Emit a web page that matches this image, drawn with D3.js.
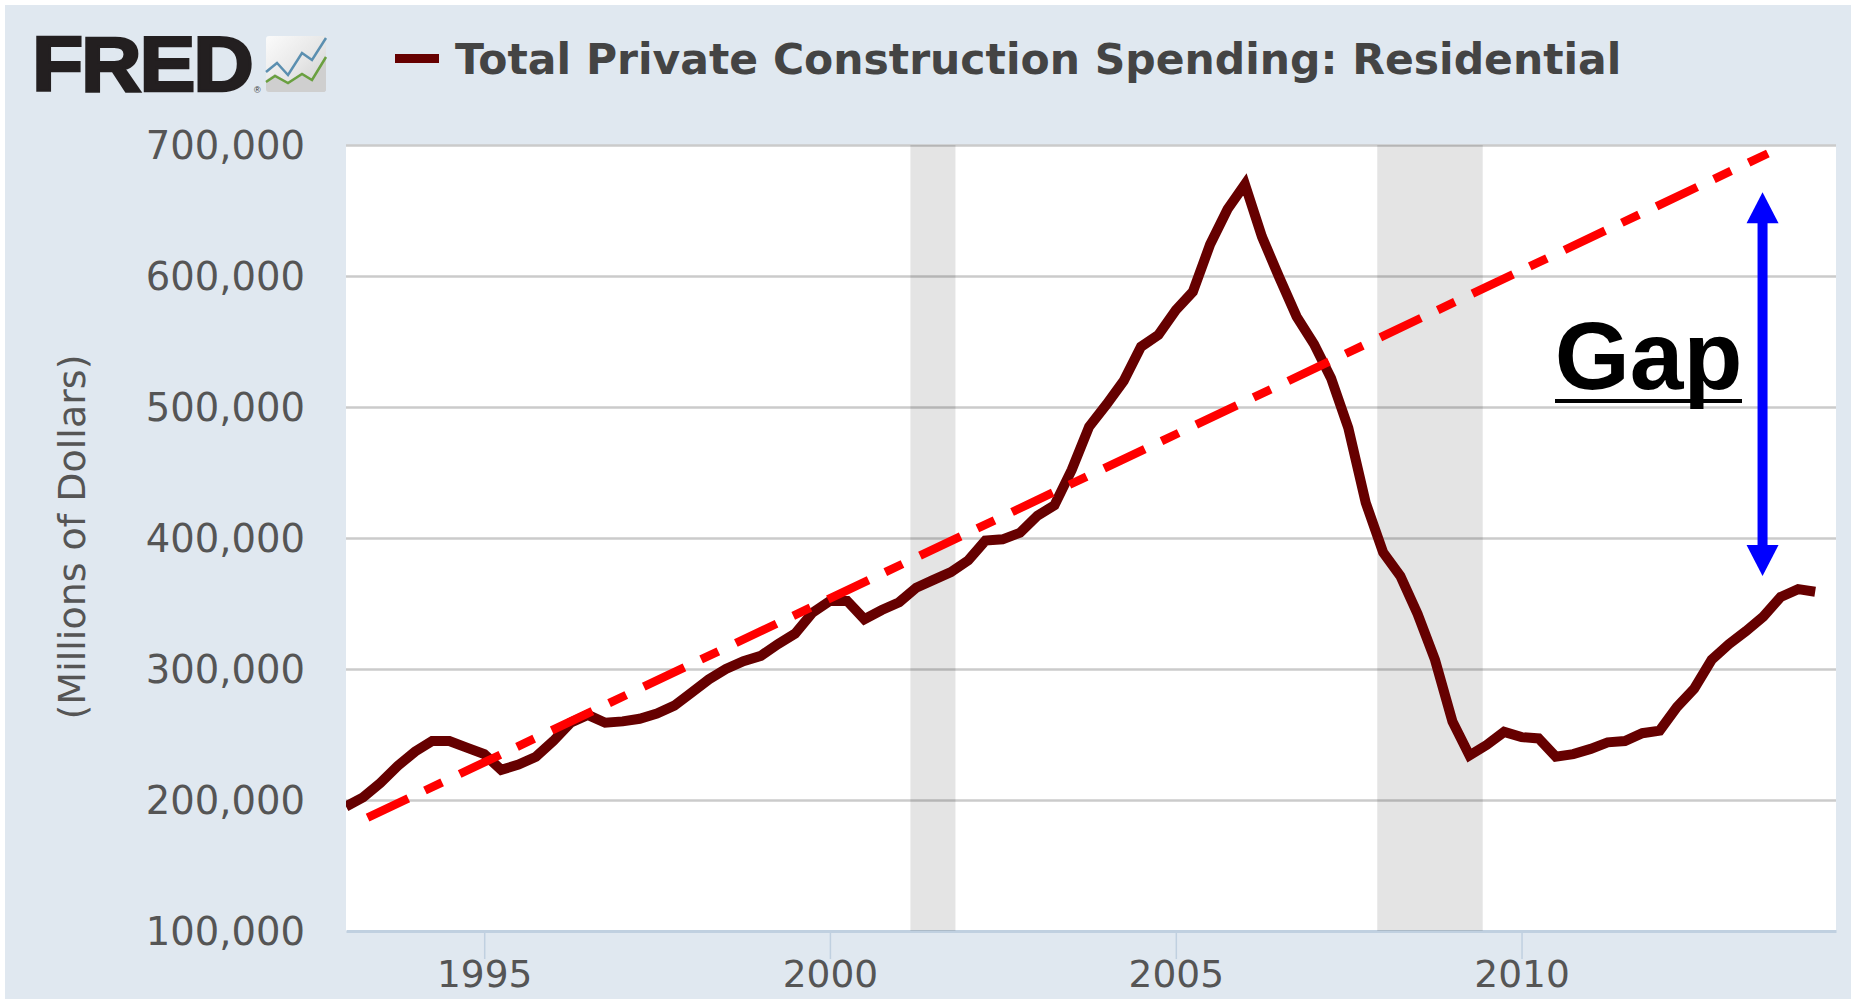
<!DOCTYPE html>
<html><head><meta charset="utf-8">
<script src="https://cdnjs.cloudflare.com/ajax/libs/d3/7.8.5/d3.min.js"></script>
<style>html,body{margin:0;padding:0;background:#fff;overflow:hidden}svg{display:block}</style>
</head><body><svg id="c" width="1851" height="999"></svg>
<script>
const seriesName = "Total Private Construction Spending: Residential";
const yAxisTitle = "(Millions of Dollars)";
const annotationLabel = "Gap";
const startYear = 1993;
// Quarterly values, millions of dollars, 1993Q1 onward
const spending = [195,202,213,226, 237,245,245,240, 235,223,227,233, 245,259,265,259,
  260,262,266,272, 282,292,300,306, 310,319,327,343, 352,352,338,345,
  351,362,368,374, 383,398,399,404, 417,425,452,485, 502,520,546,555,
  574,588,624,651, 670,630,599,569, 548,522,484,427, 389,371,342,307,
  260,234,242,252, 248,247,233,235, 239,244,245,251, 253,271,285,307,
  319,329,340,355, 361,359].map(v => v * 1000);
const yTicks = [100000,200000,300000,400000,500000,600000,700000];
const xTickYears = [1995,2000,2005,2010];
const recessions = [["2001-03-01","2001-10-25"],["2007-12-01","2009-06-10"]];
const trendDates = ["1993-04-25","2013-07-25"];
const trendValues = [186500,693500];
const gapDate = "2013-06-27";
const gapValues = [664000,371000];

const W=1851,H=999,L=346,R=1836,T=145,B=931;
const pd=d3.timeParse("%Y-%m-%d");
const x=d3.scaleTime().domain([new Date(1993,0,1),new Date(2014,6,20)]).range([L,R]);
const y=d3.scaleLinear().domain([100000,700000]).range([B,T]);
const svg=d3.select("#c");
const fontFam="'DejaVu Sans',sans-serif";

svg.append("rect").attr("x",5).attr("y",5).attr("width",W-5).attr("height",H-5).attr("fill","#e0e8f0");
svg.append("rect").attr("x",L).attr("y",T).attr("width",R-L).attr("height",B-T).attr("fill","#fff");

// Y axis + grid
const ya=svg.append("g").attr("transform",`translate(${L},0)`)
  .call(d3.axisLeft(y).tickValues(yTicks).tickFormat(d3.format(",")).tickSize(-(R-L)).tickPadding(41));
ya.select(".domain").remove();
ya.selectAll(".tick line").attr("stroke",d=>d===100000?"none":"#cbcbcb").attr("stroke-width",2.5);
ya.selectAll(".tick text").attr("fill","#555").attr("font-family",fontFam).attr("font-size",38.5).attr("y",1.5);

// X axis
const xa=svg.append("g").attr("transform",`translate(0,${B})`)
  .call(d3.axisBottom(x).tickValues(xTickYears.map(v=>new Date(v,0,1))).tickFormat(d3.timeFormat("%Y")).tickSize(28).tickPadding(1).tickSizeOuter(0));
xa.select(".domain").attr("stroke","#c0d0e0").attr("stroke-width",3);
xa.selectAll(".tick line").attr("stroke","#c0d0e0").attr("stroke-width",1.5);
xa.selectAll(".tick text").attr("fill","#555").attr("font-family",fontFam).attr("font-size",37.5);

// Recession bands
svg.append("g").selectAll("rect").data(recessions).join("rect")
  .attr("x",d=>x(pd(d[0]))).attr("width",d=>x(pd(d[1]))-x(pd(d[0])))
  .attr("y",T).attr("height",B-T).attr("fill","#000").attr("fill-opacity",0.105);

// Series
const pts=spending.map((v,i)=>({date:new Date(startYear+Math.floor(i/4),(i%4)*3,1),v}));
const line=d3.line().x(d=>x(d.date)).y(d=>y(d.v));
svg.append("clipPath").attr("id","pc").append("rect").attr("x",L).attr("y",T).attr("width",R-L).attr("height",B-T);
svg.append("path").datum(pts).attr("d",line).attr("fill","none").attr("stroke","#660000")
  .attr("stroke-width",10).attr("stroke-linejoin","miter").attr("clip-path","url(#pc)");

// Trend line
const trend=trendDates.map((d,i)=>({date:pd(d),v:trendValues[i]}));
svg.append("path").datum(trend).attr("d",line).attr("fill","none").attr("stroke","#ff0000")
  .attr("stroke-width",8.5).attr("stroke-dasharray","45 18.5 19 19.4");

// Gap arrow
const ax=x(pd(gapDate)), at=y(gapValues[0]), ab=y(gapValues[1]);
const hw=16,hh=31;
svg.append("rect").attr("x",ax-5).attr("y",at+hh-1).attr("width",10).attr("height",ab-at-2*hh+2).attr("fill","#0000ff");
svg.append("path").attr("fill","#0000ff").attr("d",d3.line()([[ax,at],[ax+hw,at+hh],[ax-hw,at+hh]])+"Z");
svg.append("path").attr("fill","#0000ff").attr("d",d3.line()([[ax,ab],[ax+hw,ab-hh],[ax-hw,ab-hh]])+"Z");
svg.append("text").attr("x",1648.5).attr("y",389).attr("text-anchor","middle")
  .attr("font-family","'Liberation Sans',Arial,sans-serif").attr("font-weight","700").attr("font-size",96.5).attr("fill","#000").text(annotationLabel);
svg.append("rect").attr("x",1555).attr("y",399).attr("width",187).attr("height",4).attr("fill","#000");

// Y title
svg.append("text").attr("transform","translate(85,537) rotate(-90)").attr("text-anchor","middle")
  .attr("font-family",fontFam).attr("font-size",38).attr("fill","#555").text(yAxisTitle);

// Legend
svg.append("rect").attr("x",395).attr("y",54).attr("width",44).attr("height",9).attr("fill","#660000");
svg.append("text").attr("x",455).attr("y",74).attr("font-family",fontFam).attr("font-weight","700")
  .attr("font-size",42.5).attr("fill","#444").text(seriesName);

// FRED logo
svg.append("text").attr("transform","translate(32,91) scale(1.09,1)").attr("font-family","'Liberation Sans',Arial,sans-serif").attr("font-weight","700")
  .attr("font-size",77).attr("fill","#231f20").attr("stroke","#231f20").attr("stroke-width",2.5).attr("letter-spacing",-2).text("FRED");
svg.append("text").attr("x",254).attr("y",93).attr("font-family","'Liberation Sans',sans-serif").attr("font-size",9).attr("fill","#333").text("®");
const defs=svg.append("defs");
const g=defs.append("linearGradient").attr("id","ic").attr("x1",0).attr("y1",0).attr("x2",1).attr("y2",1);
g.append("stop").attr("offset",0).attr("stop-color","#fbfbfb");
g.append("stop").attr("offset",.55).attr("stop-color","#e6e6e6");
g.append("stop").attr("offset",1).attr("stop-color","#cccccc");
const ic=svg.append("g").attr("transform","translate(266,36)");
ic.append("rect").attr("width",60).attr("height",56).attr("rx",3).attr("fill","url(#ic)");
ic.append("path").attr("fill","#cfcfcf").attr("d","M0,44 L9,38 L22,46 L36,37 L46,43 L60,20 L60,53 Q60,56 57,56 L3,56 Q0,56 0,53Z");
ic.append("path").attr("fill","none").attr("stroke","#5b8fb0").attr("stroke-width",2.5).attr("d","M0,36 L11,27 L22,39 L36,17 L46,24 L60,2");
ic.append("path").attr("fill","none").attr("stroke","#6aa040").attr("stroke-width",2.5).attr("d","M0,46 L9,40 L22,47 L36,38 L46,44 L60,21");
</script></body></html>
